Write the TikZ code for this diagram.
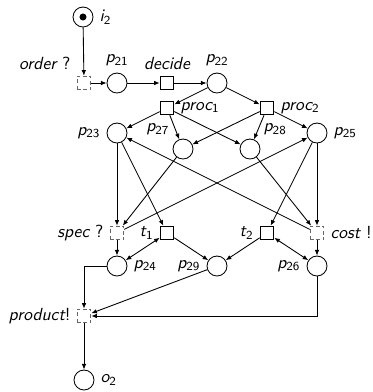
\documentclass[tikz,border=0pt]{standalone}
\usepackage{tikz}
\usetikzlibrary{arrows.meta}

% place name with index, e.g. \plab{p}{21}
\newcommand{\plab}[2]{{\itshape #1}\textsubscript{#2}}

\begin{document}
\begin{tikzpicture}[x=0.57pt, y=-0.57pt, font=\sffamily, line width=0.5pt,
    place/.style={circle, draw, minimum size=11.4pt, inner sep=0pt},
    trans/.style={rectangle, draw, minimum size=7.8pt, inner sep=0pt},
    ctrans/.style={trans, draw=black!60, dash pattern=on 2pt off 1.6pt},
    arc/.style={-{Latex[length=3.2pt,width=2.6pt]}},
    biarc/.style={{Latex[length=3.2pt,width=2.6pt]}-{Latex[length=3.2pt,width=2.6pt]}}]
  \useasboundingbox (0,0) rectangle (373,392);

  % input / output places
  \node[place, label={right:\plab{i}{2}}] (i2) at (83,17) {};
  \fill (i2) circle (2pt);
  \node[place, label={right:\plab{o}{2}}] (o2) at (84,380) {};

  % upper part
  \node[ctrans, label={above left:{\itshape order} ?}] (order) at (84,83) {};
  \node[place, label={above:\plab{p}{21}}] (p21) at (117,83) {};
  \node[trans, label={above:{\itshape decide}}] (decide) at (167,83) {};
  \node[place, label={above:\plab{p}{22}}] (p22) at (217,83) {};
  \node[trans, label={right:\plab{proc}{1}}] (proc1) at (167,108) {};
  \node[trans, label={right:\plab{proc}{2}}] (proc2) at (267,108) {};

  % middle places
  \node[place, label={left:\plab{p}{23}}] (p23) at (117,133) {};
  \node[place, label={[label distance=0pt]above left:\plab{p}{27}}] (p27) at (183,149) {};
  \node[place, label={[label distance=0pt]above right:\plab{p}{28}}] (p28) at (250,149) {};
  \node[place, label={right:\plab{p}{25}}] (p25) at (317,133) {};

  % lower transitions
  \node[ctrans, label={left:{\itshape spec} ?}] (spec) at (117,233) {};
  \node[trans, label={left:\plab{t}{1}}] (t1) at (167,233) {};
  \node[trans, label={left:\plab{t}{2}}] (t2) at (267,233) {};
  \node[ctrans, label={right:{\itshape cost} !}] (cost) at (317,233) {};

  % lower places
  \node[place, label={right:\plab{p}{24}}] (p24) at (117,266) {};
  \node[place, label={left:\plab{p}{29}}] (p29) at (217,266) {};
  \node[place, label={left:\plab{p}{26}}] (p26) at (317,266) {};
  \node[ctrans, label={left:{\itshape product}!}] (product) at (84,316) {};

  % arcs
  \foreach \a/\b in {i2/order, order/p21, p21/decide, decide/p22,
      p22/proc1, p22/proc2, proc1/p23, proc1/p27, proc1/p28,
      proc2/p27, proc2/p28, proc2/p25, p23/spec, p23/t1, p27/spec,
      spec/p25, cost/p23, p28/cost, p25/t2, p25/cost, spec/p24,
      t1/p29, t2/p29, cost/p26, p29/product, product/o2}
    \draw[arc] (\a) -- (\b);
  \draw[biarc] (t1) -- (p24);
  \draw[biarc] (t2) -- (p26);
  \draw[arc] (p24) -| (product);
  \draw[arc] (p26) |- (product);
\end{tikzpicture}
\end{document}
